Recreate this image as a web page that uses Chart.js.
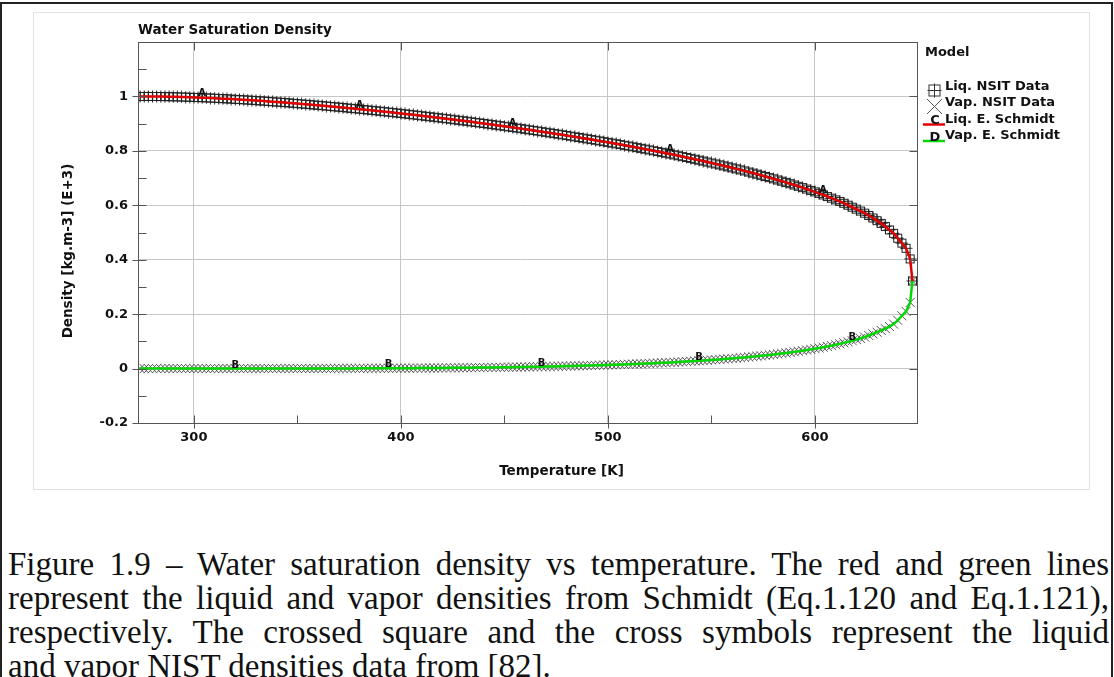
<!DOCTYPE html>
<html>
<head>
<meta charset="utf-8">
<script src="https://cdn.jsdelivr.net/npm/chart.js@4"></script>
<style>
  html, body { margin: 0; padding: 0; background: #fff; }
  body { width: 1114px; height: 677px; overflow: hidden; position: relative; }
  #frame { position: absolute; left: 0; top: 2px; width: 1113px; height: 700px;
           border: 2px solid #222; border-bottom: none; box-sizing: border-box; }
  #panel { position: absolute; left: 33px; top: 12px; width: 1057px; height: 478px;
           border: 1px solid #e2e2e2; box-sizing: border-box; }
  #plot { position: absolute; left: 33px; top: 12px; width: 1057px; height: 478px; }
  #caption { position: absolute; left: 8px; top: 547px; width: 1101px;
             font-family: "Liberation Serif", serif; font-size: 33px; line-height: 34px; color: #111; }
  #caption .ln { text-align: justify; text-align-last: justify; }
</style>
</head>
<body>
<div id="frame"></div>
<div id="panel"></div>
<div id="plot"><canvas id="chart"></canvas></div>
<div id="caption">
  <div class="ln">Figure 1.9 – Water saturation density vs temperature. The red and green lines</div>
  <div class="ln">represent the liquid and vapor densities from Schmidt (Eq.1.120 and Eq.1.121),</div>
  <div class="ln">respectively. The crossed square and the cross symbols represent the liquid</div>
  <div>and vapor NIST densities data from [82].</div>
</div>
<script>
// temperature [K]
const temps = [
  274,276,278,280,282,284,286,288,290,292,
  294,296,298,300,302,304,306,308,310,312,
  314,316,318,320,322,324,326,328,330,332,
  334,336,338,340,342,344,346,348,350,352,
  354,356,358,360,362,364,366,368,370,372,
  374,376,378,380,382,384,386,388,390,392,
  394,396,398,400,402,404,406,408,410,412,
  414,416,418,420,422,424,426,428,430,432,
  434,436,438,440,442,444,446,448,450,452,
  454,456,458,460,462,464,466,468,470,472,
  474,476,478,480,482,484,486,488,490,492,
  494,496,498,500,502,504,506,508,510,512,
  514,516,518,520,522,524,526,528,530,532,
  534,536,538,540,542,544,546,548,550,552,
  554,556,558,560,562,564,566,568,570,572,
  574,576,578,580,582,584,586,588,590,592,
  594,596,598,600,602,604,606,608,610,612,
  614,616,618,620,622,624,626,628,630,632,
  634,636,638,640,642,644,646,647.1
];

// liquid density [kg.m-3]
const liqDensity = [
  999.9,1000.0,1000.0,999.9,999.8,999.6,999.4,999.1,998.8,998.4,
  998.0,997.6,997.1,996.5,996.0,995.4,994.8,994.1,993.4,992.6,
  991.9,991.1,990.3,989.4,988.5,987.6,986.7,985.8,984.8,983.8,
  982.8,981.7,980.6,979.5,978.4,977.3,976.1,974.9,973.7,972.5,
  971.3,970.0,968.7,967.4,966.1,964.7,963.4,962.0,960.6,959.2,
  957.7,956.3,954.8,953.3,951.8,950.3,948.8,947.2,945.6,944.1,
  942.4,940.8,939.2,937.5,935.8,934.1,932.4,930.7,928.9,927.1,
  925.4,923.5,921.7,919.9,918.1,916.2,914.3,912.4,910.5,908.6,
  906.6,904.6,902.7,900.7,898.6,896.6,894.5,892.4,890.3,888.2,
  886.1,883.9,881.7,879.5,877.3,875.1,872.8,870.6,868.3,866.0,
  863.7,861.3,859.0,856.6,854.1,851.7,849.2,846.7,844.2,841.7,
  839.1,836.5,833.9,831.3,828.6,825.9,823.2,820.5,817.7,814.9,
  812.1,809.3,806.4,803.5,800.6,797.6,794.6,791.5,788.5,785.4,
  782.2,779.0,775.8,772.5,769.2,765.9,762.5,759.0,755.5,752.1,
  748.7,745.0,741.3,737.6,733.9,730.2,726.3,722.3,718.4,714.4,
  710.3,706.0,701.7,697.4,693.0,688.7,684.0,679.3,674.6,669.8,
  665.0,659.8,654.6,649.3,643.9,638.2,632.2,626.1,620.0,614.3,
  607.6,600.4,593.2,585.9,579.0,571.0,562.5,553.5,543.5,533.5,
  522.5,509.6,497.0,479.0,461.0,442.0,403.0,322.0
];

// vapour density [kg.m-3]
const vapDensity = [
  0.0052,0.0059,0.0068,0.0077,0.0088,0.0100,0.0113,0.0128,0.0144,0.0162,
  0.0182,0.0205,0.0229,0.0256,0.0286,0.0318,0.0354,0.0393,0.0436,0.0482,
  0.0533,0.0589,0.0649,0.0715,0.0786,0.0863,0.0946,0.1036,0.1133,0.1238,
  0.1350,0.1470,0.1600,0.1740,0.1888,0.2048,0.2218,0.2400,0.2602,0.2809,
  0.3033,0.3270,0.3522,0.3786,0.4078,0.4383,0.4710,0.5050,0.5410,0.5800,
  0.6149,0.6560,0.6998,0.7466,0.7965,0.8482,0.9017,0.9586,1.019,1.083,
  1.150,1.218,1.291,1.367,1.448,1.532,1.618,1.709,1.805,1.906,
  2.011,2.118,2.230,2.348,2.473,2.602,2.733,2.871,3.016,3.169,
  3.326,3.485,3.652,3.828,4.011,4.201,4.394,4.596,4.807,5.027,
  5.255,5.486,5.727,5.978,6.241,6.511,6.785,7.071,7.369,7.679,
  8.000,8.324,8.663,9.014,9.380,9.754,10.14,10.53,10.95,11.38,
  11.82,12.26,12.73,13.21,13.71,14.22,14.74,15.28,15.85,16.43,
  17.02,17.63,18.26,18.91,19.59,20.28,20.99,21.73,22.49,23.28,
  24.08,24.91,25.77,26.66,27.57,28.51,29.48,30.48,31.51,32.58,
  33.68,34.82,35.99,37.20,38.46,39.75,41.09,42.47,43.90,45.37,
  46.91,48.50,50.15,51.85,53.60,55.43,57.34,59.32,61.37,63.49,
  65.72,68.07,70.50,73.01,75.62,78.37,81.31,84.36,87.52,90.80,
  94.37,98.28,102.4,106.6,111.0,115.9,121.5,127.4,133.6,140.1,
  146.8,154.5,163.5,177.2,194.0,210.0,243.0,322.0
];

const E3 = 1000; // axis is in (E+3)

const xTicks = [300, 400, 500, 600];
const xTickLabels = ['300', '400', '500', '600'];
const xMinor = [350, 450, 550];
const yTicks = [-0.2, 0, 0.2, 0.4, 0.6, 0.8, 1];
const yTickLabels = ['-0.2', '0', '0.2', '0.4', '0.6', '0.8', '1'];
const yMinor = [-0.1, 0.1, 0.3, 0.5, 0.7, 0.9, 1.1];

const chartTitle = 'Water Saturation Density';
const xTitle = 'Temperature [K]';
const yTitle = 'Density [kg.m-3] (E+3)';
const legendTitle = 'Model';
const legendLabels = ['Liq. NSIT Data', 'Vap. NSIT Data', 'Liq. E. Schmidt', 'Vap. E. Schmidt'];
const legendKeys = ['', '', 'C', 'D'];
const liqLabelTemps = [304, 380, 454, 530, 604];
const vapLabelTemps = [320, 394, 468, 544, 618];

const RED = '#e20000';
const GREEN = '#00d800';
const GREY_X = '#555';

function crossedSquare(size, half, color) {
  const c = document.createElement('canvas');
  c.width = c.height = size;
  const g = c.getContext('2d');
  const m = size / 2;
  g.strokeStyle = color;
  g.lineWidth = 1;
  g.strokeRect(m - half, m - half, half * 2, half * 2);
  g.beginPath();
  g.moveTo(0.5, m); g.lineTo(size - 0.5, m);
  g.moveTo(m, 0.5); g.lineTo(m, size - 0.5);
  g.stroke();
  return c;
}
const liqMarker = crossedSquare(13, 4, '#222');
const liqLegendMarker = crossedSquare(15, 5.5, '#333');

const liqPts = temps.map((t, i) => ({ x: t, y: liqDensity[i] / E3 }));
const vapPts = temps.map((t, i) => ({ x: t, y: vapDensity[i] / E3 }));

const decorations = {
  id: 'decorations',
  afterDraw(chart) {
    const { ctx, chartArea: a, scales: { x, y } } = chart;
    const px = v => Math.round(x.getPixelForValue(v)) + 0.5;
    const py = v => Math.round(y.getPixelForValue(v)) + 0.5;
    const L = Math.round(a.left) + 0.5, R = Math.round(a.right) + 0.5;
    const T = Math.round(a.top) + 0.5, B = Math.round(a.bottom) + 0.5;
    ctx.save();

    // box + ticks
    ctx.strokeStyle = '#555';
    ctx.lineWidth = 1;
    ctx.strokeRect(L, T, R - L, B - T);
    ctx.beginPath();
    xTicks.forEach(v => {
      const p = px(v);
      ctx.moveTo(p, B + 5); ctx.lineTo(p, B - 8);
      ctx.moveTo(p, T); ctx.lineTo(p, T + 8);
    });
    xMinor.forEach(v => { const p = px(v); ctx.moveTo(p, B); ctx.lineTo(p, B - 8); });
    yTicks.forEach(v => {
      const p = py(v);
      ctx.moveTo(L - 6, p); ctx.lineTo(L + 8, p);
      ctx.moveTo(R - 8, p); ctx.lineTo(R, p);
    });
    yMinor.forEach(v => { const p = py(v); ctx.moveTo(L, p); ctx.lineTo(L + 8, p); });
    ctx.stroke();

    // curve letters
    ctx.fillStyle = '#111';
    ctx.font = 'bold 10px "DejaVu Sans"';
    ctx.textAlign = 'center';
    ctx.textBaseline = 'alphabetic';
    liqLabelTemps.forEach(t => {
      const i = temps.indexOf(t);
      ctx.fillText('A', x.getPixelForValue(t), y.getPixelForValue(liqDensity[i] / E3) - 1.5);
    });
    vapLabelTemps.forEach(t => {
      const i = temps.indexOf(t);
      ctx.fillText('B', x.getPixelForValue(t), y.getPixelForValue(vapDensity[i] / E3) - 1);
    });

    // titles
    ctx.font = 'bold 13.5px "DejaVu Sans"';
    ctx.textBaseline = 'middle';
    ctx.textAlign = 'left';
    ctx.fillText(chartTitle, a.left, 18);
    ctx.textAlign = 'center';
    ctx.fillText(xTitle, chart.width / 2, 459);
    ctx.save();
    ctx.translate(35, chart.height / 2);
    ctx.rotate(-Math.PI / 2);
    ctx.fillText(yTitle, 0, 0);
    ctx.restore();

    // legend
    const lx = a.right + 8;
    const rows = [75, 91, 107.5, 124];
    ctx.textAlign = 'left';
    ctx.font = 'bold 13px "DejaVu Sans"';
    ctx.fillText(legendTitle, lx, 41);
    legendLabels.forEach((s, i) => ctx.fillText(s, lx + 20, rows[i]));

    ctx.drawImage(liqLegendMarker, lx + 2, rows[0] - 4);
    ctx.strokeStyle = GREY_X;
    ctx.beginPath();
    ctx.moveTo(lx + 2, rows[1] - 4); ctx.lineTo(lx + 17, rows[1] + 11);
    ctx.moveTo(lx + 17, rows[1] - 4); ctx.lineTo(lx + 2, rows[1] + 11);
    ctx.stroke();

    [RED, GREEN].forEach((col, k) => {
      const ly = rows[2 + k] + 5;
      ctx.strokeStyle = col;
      ctx.lineWidth = 2.5;
      ctx.beginPath();
      ctx.moveTo(lx - 2, ly); ctx.lineTo(lx + 20, ly);
      ctx.stroke();
      ctx.textAlign = 'center';
      ctx.textBaseline = 'alphabetic';
      ctx.fillText(legendKeys[2 + k], lx + 10, ly - 0.5);
      ctx.textBaseline = 'middle';
      ctx.textAlign = 'left';
    });
    ctx.restore();
  }
};

const tickFont = { family: 'DejaVu Sans', size: 13, weight: 'bold' };

// first dataset is painted last (on top): Schmidt lines over the NIST markers
new Chart(document.getElementById('chart'), {
  type: 'scatter',
  data: {
    datasets: [
      {
        label: legendLabels[2],
        data: liqPts,
        showLine: true,
        borderColor: RED,
        borderWidth: 2.5,
        pointRadius: 0,
        tension: 0,
      },
      {
        label: legendLabels[3],
        data: vapPts,
        showLine: true,
        borderColor: GREEN,
        borderWidth: 2.5,
        pointRadius: 0,
        tension: 0,
      },
      {
        label: legendLabels[0],
        data: liqPts,
        pointStyle: liqMarker,
        pointRadius: 6,
        showLine: false,
      },
      {
        label: legendLabels[1],
        data: vapPts,
        pointStyle: 'crossRot',
        pointRadius: 6.4,
        borderColor: GREY_X,
        borderWidth: 1,
        showLine: false,
      },
    ]
  },
  options: {
    responsive: true,
    maintainAspectRatio: false,
    animation: false,
    events: [],
    layout: { padding: { top: 30, right: 173, left: 0, bottom: 0 } },
    plugins: {
      legend: { display: false },
      tooltip: { enabled: false },
    },
    scales: {
      x: {
        type: 'linear',
        min: 273,
        max: 649.3,
        afterBuildTicks: s => { s.ticks = xTicks.map(v => ({ value: v })); },
        afterFit: s => { s.height = 67; },
        border: { display: false },
        grid: { color: '#c6c6c6', drawTicks: false },
        ticks: {
          padding: 7,
          color: '#111',
          font: tickFont,
          maxRotation: 0,
          callback: (v, i) => xTickLabels[i],
        },
      },
      y: {
        type: 'linear',
        min: -0.2,
        max: 1.2,
        afterBuildTicks: s => { s.ticks = yTicks.map(v => ({ value: v })); },
        afterFit: s => { s.width = 105; },
        border: { display: false },
        grid: { color: '#c6c6c6', drawTicks: false },
        ticks: {
          padding: 10,
          color: '#111',
          font: tickFont,
          callback: (v, i) => yTickLabels[i],
        },
      },
    },
  },
  plugins: [decorations],
});
</script>
</body>
</html>
